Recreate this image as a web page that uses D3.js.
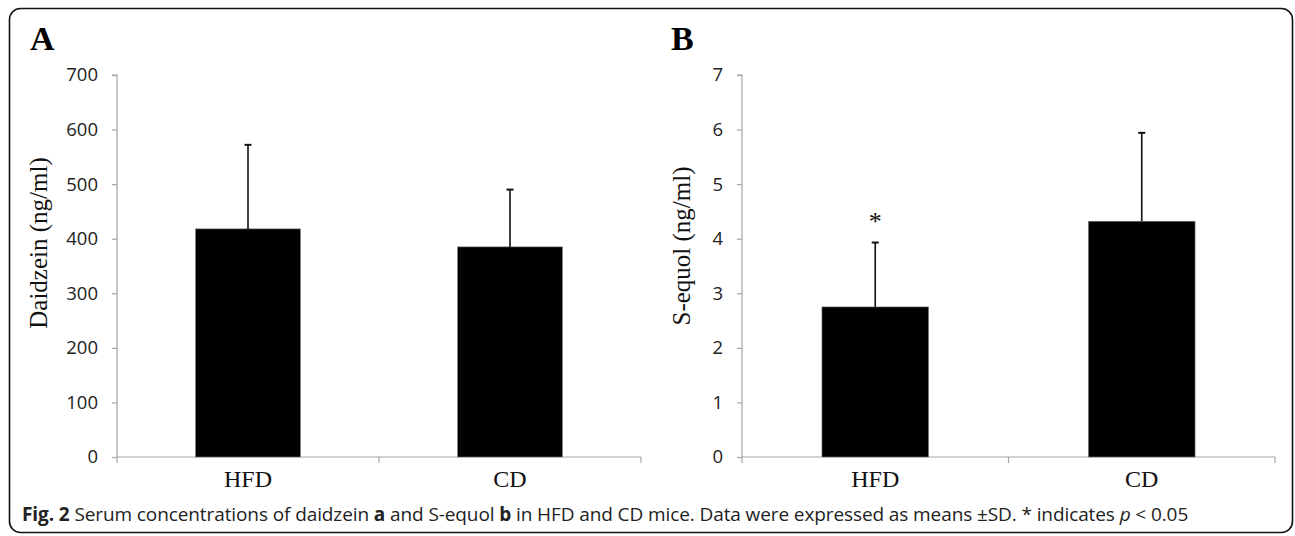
<!DOCTYPE html>
<html>
<head>
<meta charset="utf-8">
<script src="https://cdn.jsdelivr.net/npm/d3@7/dist/d3.min.js"></script>
<style>
  html, body { margin: 0; padding: 0; background: #fff; }
  svg { display: block; }
</style>
</head>
<body>
<svg id="chart" width="1295" height="536"></svg>
<script>
// ---- data ----
const categories = ["HFD", "CD"];
const daidzeinMean = [418, 385];
const daidzeinSD = [154, 105];
const equolMean = [2.75, 4.32];
const equolSD = [1.18, 1.62];
const daidzeinTicks = [0, 100, 200, 300, 400, 500, 600, 700];
const equolTicks = [0, 1, 2, 3, 4, 5, 6, 7];
const significant = [true, false]; // panel B markers
const panelLabels = ["A", "B"];
const yTitles = ["Daidzein (ng/ml)", "S-equol (ng/ml)"];

const svg = d3.select("#chart");

// frame
svg.append("rect")
  .attr("x", 9.5).attr("y", 8.5)
  .attr("width", 1283).attr("height", 524)
  .attr("rx", 11).attr("ry", 11)
  .attr("fill", "none").attr("stroke", "#111").attr("stroke-width", 1.6);

const axisColor = "#a6a6a6";
const plotTop = 75, plotBottom = 457;

function panel(cfg) {
  const g = svg.append("g");
  const x = d3.scaleBand().domain(categories)
    .range([cfg.x0, cfg.x1]).paddingInner(0.6).paddingOuter(0.3);
  const y = d3.scaleLinear().domain([0, cfg.max]).range([plotBottom, plotTop]);

  // y axis
  const yAxis = d3.axisLeft(y).tickValues(cfg.ticks).tickSize(5).tickPadding(14)
    .tickFormat(d3.format("d"));
  const ya = g.append("g").attr("transform", `translate(${cfg.x0},0)`).call(yAxis);
  ya.select(".domain").attr("stroke", axisColor).attr("stroke-width", 1.2)
    .attr("d", `M-5,${plotTop}H0V${plotBottom}`);
  ya.selectAll(".tick line").attr("stroke", axisColor).attr("stroke-width", 1.2);
  ya.selectAll(".tick text").attr("fill", "#222")
    .style("font-family", "'Open Sans', sans-serif").style("font-size", "18.5px");

  // x axis line with boundary ticks
  const step = x.step();
  const boundaries = [cfg.x0, ...categories.map(c => x(c) - x.paddingInner() * step / 2 + step)];
  g.append("line").attr("x1", cfg.x0).attr("x2", cfg.x1)
    .attr("y1", plotBottom).attr("y2", plotBottom)
    .attr("stroke", axisColor).attr("stroke-width", 1.2);
  g.selectAll(".xtick").data(boundaries).join("line")
    .attr("x1", d => d).attr("x2", d => d)
    .attr("y1", plotBottom).attr("y2", plotBottom + 6)
    .attr("stroke", axisColor).attr("stroke-width", 1.2);

  // category labels
  g.selectAll(".cat").data(categories).join("text")
    .attr("x", d => x(d) + x.bandwidth() / 2)
    .attr("y", 487)
    .attr("text-anchor", "middle")
    .style("font-family", "'Liberation Serif', 'Times New Roman', serif")
    .style("font-size", "24px").attr("fill", "#111")
    .text(d => d);

  // bars
  g.selectAll(".bar").data(categories).join("rect")
    .attr("x", d => x(d))
    .attr("width", x.bandwidth())
    .attr("y", (d, i) => y(cfg.mean[i]))
    .attr("height", (d, i) => y(0) - y(cfg.mean[i]))
    .attr("fill", "#000").attr("stroke", "#777").attr("stroke-width", 0.6);

  // error bars (upper only)
  const cx = d => x(d) + x.bandwidth() / 2;
  g.selectAll(".err").data(categories).join("line")
    .attr("x1", cx).attr("x2", cx)
    .attr("y1", (d, i) => y(cfg.mean[i]))
    .attr("y2", (d, i) => y(cfg.mean[i] + cfg.sd[i]))
    .attr("stroke", "#111").attr("stroke-width", 1.6);
  g.selectAll(".cap").data(categories).join("line")
    .attr("x1", d => cx(d) - 3.5).attr("x2", d => cx(d) + 3.5)
    .attr("y1", (d, i) => y(cfg.mean[i] + cfg.sd[i]))
    .attr("y2", (d, i) => y(cfg.mean[i] + cfg.sd[i]))
    .attr("stroke", "#111").attr("stroke-width", 2);

  // significance markers
  if (cfg.sig) {
    g.selectAll(".sig").data(categories.filter((c, i) => cfg.sig[i])).join("text")
      .attr("x", cx)
      .attr("y", d => y(cfg.mean[categories.indexOf(d)] + cfg.sd[categories.indexOf(d)]) - 13)
      .attr("text-anchor", "middle")
      .style("font-family", "'Liberation Serif', serif")
      .style("font-size", "26px").attr("fill", "#111")
      .text("*");
  }

  // y title
  g.append("text")
    .attr("transform", `translate(${cfg.titleX},${cfg.titleY}) rotate(-90)`)
    .attr("text-anchor", "middle")
    .style("font-family", "'Liberation Serif', 'Times New Roman', serif")
    .style("font-size", "25px").attr("fill", "#111")
    .text(cfg.title);

  // panel label
  g.append("text")
    .attr("x", cfg.labelX).attr("y", 50)
    .style("font-family", "'Liberation Serif', 'Times New Roman', serif")
    .style("font-size", "34px").style("font-weight", "bold").attr("fill", "#000")
    .text(cfg.label);
}

panel({ x0: 117, x1: 641, max: 700, ticks: daidzeinTicks, mean: daidzeinMean, sd: daidzeinSD,
        title: yTitles[0], titleX: 47, titleY: 243, label: panelLabels[0], labelX: 30 });
panel({ x0: 742, x1: 1275, max: 7, ticks: equolTicks, mean: equolMean, sd: equolSD, sig: significant,
        title: yTitles[1], titleX: 690, titleY: 246, label: panelLabels[1], labelX: 671 });

// caption
const cap = svg.append("text")
  .attr("x", 22).attr("y", 521)
  .style("font-family", "'Open Sans', sans-serif").style("font-size", "19px")
  .style("letter-spacing", "-0.1px").attr("fill", "#222");
const parts = [
  ["Fig. 2", "bold", "normal"],
  [" Serum concentrations of daidzein ", "normal", "normal"],
  ["a", "bold", "normal"],
  [" and S-equol ", "normal", "normal"],
  ["b", "bold", "normal"],
  [" in HFD and CD mice. Data were expressed as means \u00B1SD. * indicates ", "normal", "normal"],
  ["p", "normal", "italic"],
  [" < 0.05", "normal", "normal"]
];
parts.forEach(([t, w, s]) => {
  cap.append("tspan").style("font-weight", w).style("font-style", s).text(t);
});
</script>
</body>
</html>
